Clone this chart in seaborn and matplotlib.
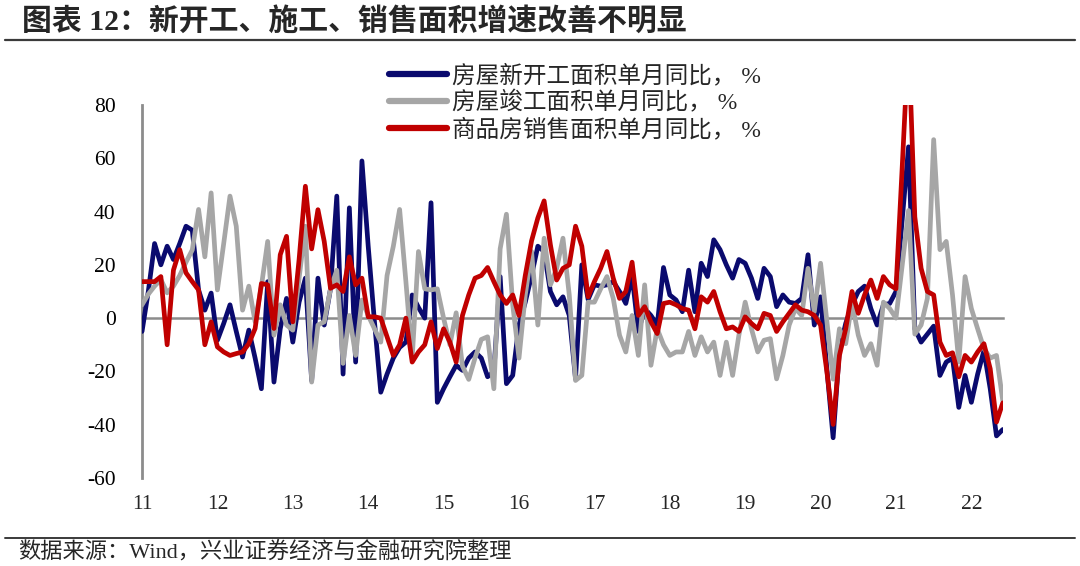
import numpy as np
import pandas as pd
import seaborn as sns
import matplotlib
matplotlib.use("Agg")
import matplotlib.pyplot as plt
from matplotlib.lines import Line2D

# 单月同比，%  (monthly points, first point sits on the "11" tick)
new_starts = [
    -5, 10, 28, 20, 27, 22, 28, 34.5, 33, 10.6, 3, 9.4,
    -8.3, -2, 5, -5, -14.6, -4.5, -15, -26.5, 13.7, -24, -4, 7.4,
    -9, 6, 15, -23.4, 15, -2.6, 11, 45.8, -21, 41.4, -16.5, 59,
    27, -1.4, -27.8, -21, -15, -11, -9, 8.7, 4, 0, 43.3, -31.6,
    -26.5, -22, -17.7, -19.6, -15, -12.7, -15, -22, -20, 15.6, -24.6, -21.5,
    -2.6, 6, 16, 27, 25, 10, 5, 8, 1, -22.8, 20, 7,
    12.5, 12, 12.5, 13.7, 10, 5.5, 16, -5, 3.6, 1, -2.6, 19,
    8.7, 6.8, 2.4, 18, 2.4, 20.6, 15.6, 29.4, 25.7, 20, 15, 22,
    20.6, 15, 7.4, 18.7, 15.6, 4.3, 8.7, 6, 5.5, 7.4, 23.8, -2.6,
    8, -19, -44.9, -12, -2, 5, 10, 12, 3.6, -2.6, 5, 5.5,
    10, 37, 64.3, -4, -9, -6, -3, -21.5, -16.5, -15, -33.5, -21.5,
    -31.6, -21, -12.2, -26.5, -44.2, -41.8,
]
completions = [
    5, 9, 12, 14.5, 9.5, 12, 16, 21, 25.6, 40.8, 23, 47,
    10.6, 28, 45.8, 34.5, 3, 12, -1.4, 12, 28.8, -6.4, 5, -2.6,
    -4.5, 15, 34.5, -24, -2.6, -1.4, 11, 18, -17, 1, -14, 6.8,
    1, -4, -9, 16, 27, 40.8, 13.7, -15, 25, 11, 10.6, 11,
    0, -10, 2, -18, -23, -15, -8, -7, -26.5, 26, 39, 5,
    -15, 8.7, 25, -2.6, 30, 12.5, 18.7, 30, 8.7, -23.4, -21.5, 6,
    6, 11, 15.6, 7.4, -6.4, -12.7, 1, -14, 12.5, -17.7, -4, -10,
    -14, -12.7, -12.7, -5, -14, -7, -12.7, -9, -21.5, -9, -21.5, -6.4,
    6, -4, -12.7, -8.3, -7.7, -22.8, -14, -2.6, 3.6, 1, 18.7, 2.4,
    20.6, -1, -22.9, -4, -9.6, 6, -6.4, -14, -9.6, -17.7, 6, 3.6,
    0, 20, 40.4, -6, -2.6, 7.4, 67, 25.7, 28.8, 8.7, -16.5, 15.6,
    3.6, -4, -11.4, -15, -14, -31,
]
sales = [
    13.7, 13.7, 13.7, 15.6, -10, 18, 25.7, 17, 13.7, 10.6, -10, -1.4,
    -10.8, -12.7, -14, -13.3, -12.7, -9.6, -3.9, 13, 12.5, -3.9, 23.8, 30.7,
    -1.4, 22, 49.5, 26, 40.7, 28.8, 11.2, 12.5, 10, 23, 12.5, 15,
    0.5, 0.5, 0, -7, -14, -10, 0, -16.5, -12.7, -10, -1.4, -11.4,
    -4, -9, -16.5, 1, 8.7, 15, 16, 19, 13.7, 8.7, 5.5, 8.7,
    1, 16, 29, 37.6, 44, 27.5, 14.3, 18.7, 20, 34.5, 27, 8,
    13.7, 18.7, 25, 15, 7.4, 10, 21, 1, 4.3, -1.4, -5.8, 5.5,
    6, 5, 3.6, 3, -4, 8, 6, 10, 2.4, -4, -3.3, -5,
    0.5, -2, -4, 1.8, 1, -5, -1.4, 1.8, 5, 3, 2.4, 1,
    -2.6, -20, -39.9, -14, -4, 10, 1.8, 8.7, 14.3, 7.4, 15.6, 12.5,
    11, 57, 104.9, 38, 18.7, 10, 8.7, -9, -14, -13, -22, -14,
    -16.5, -12.7, -9.6, -19, -39, -31.8,
]
series_names = ["房屋新开工面积单月同比， %", "房屋竣工面积单月同比， %", "商品房销售面积单月同比， %"]
series_colors = ["#0a0a6e", "#a6a6a6", "#c00000"]
year_labels = ["11", "12", "13", "14", "15", "16", "17", "18", "19", "20", "21", "22"]

title = "图表 12：新开工、施工、销售面积增速改善不明显"
source = "数据来源：Wind，兴业证券经济与金融研究院整理"

sns.set_style("white")
fonts = ["Liberation Serif", "Noto Sans CJK SC", "DejaVu Sans"]
plt.rcParams["font.family"] = fonts
plt.rcParams["axes.unicode_minus"] = False

n = len(new_starts)
df = pd.DataFrame({
    "month": np.tile(np.arange(n), 3),
    "value": new_starts + completions + sales,
    "series": np.repeat(series_names, n),
})

fig = plt.figure(figsize=(10.8, 5.66), dpi=100)
ax = fig.add_axes([0.1315, 0.1555, 0.797, 0.659])

sns.lineplot(data=df, x="month", y="value", hue="series", hue_order=series_names,
             palette=dict(zip(series_names, series_colors)), linewidth=3.4,
             sort=False, ax=ax, zorder=3)
for ln in ax.get_lines():
    ln.set_solid_joinstyle("round")

ax.set_xlim(0, n - 1)
ax.set_ylim(-60, 80)
ax.set_yticks(np.arange(-60, 81, 20))
ax.set_xlabel("")
ax.set_ylabel("")

axis_gray = "#8c8c8c"
for s in ["top", "right"]:
    ax.spines[s].set_visible(False)
ax.spines["left"].set_color(axis_gray)
ax.spines["left"].set_linewidth(2)
ax.spines["bottom"].set_position(("data", 0))
ax.spines["bottom"].set_color(axis_gray)
ax.spines["bottom"].set_linewidth(1.8)

ax.tick_params(axis="y", direction="in", length=5, width=1.5, color=axis_gray,
               pad=19, labelsize=15.5, labelcolor="black")
ax.set_xticks(np.arange(len(year_labels)) * 12)
ax.tick_params(axis="x", direction="in", length=4, width=1.5, color=axis_gray,
               labelbottom=False)

sec = ax.secondary_xaxis("bottom")
sec.set_xticks(np.arange(len(year_labels)) * 12, year_labels)
sec.tick_params(length=0, pad=12, labelsize=15.5)
sec.spines["bottom"].set_visible(False)

handles, labels = ax.get_legend_handles_labels()
for h in handles:
    h.set_linewidth(4.5)
    h.set_solid_capstyle("round")
ax.legend(handles, labels, loc="upper left", bbox_to_anchor=(0.358, 0.89),
          bbox_transform=fig.transFigure, frameon=False, fontsize=17,
          handlelength=2.45, handletextpad=0.2, labelspacing=0.16,
          borderpad=0.1, borderaxespad=0)

fig.text(0.02, 0.963, title, fontsize=21.5, fontweight="bold", va="center",
         ha="left", family=fonts)
fig.add_artist(Line2D([0.005, 0.995], [0.929, 0.929], color="#3a3a3a", lw=1.6))
fig.add_artist(Line2D([0.005, 0.995], [0.049, 0.049], color="#3a3a3a", lw=1.4))
fig.text(0.017, 0.024, source, fontsize=16, va="center", ha="left", family=fonts)

fig.savefig("out.png", dpi=100)
